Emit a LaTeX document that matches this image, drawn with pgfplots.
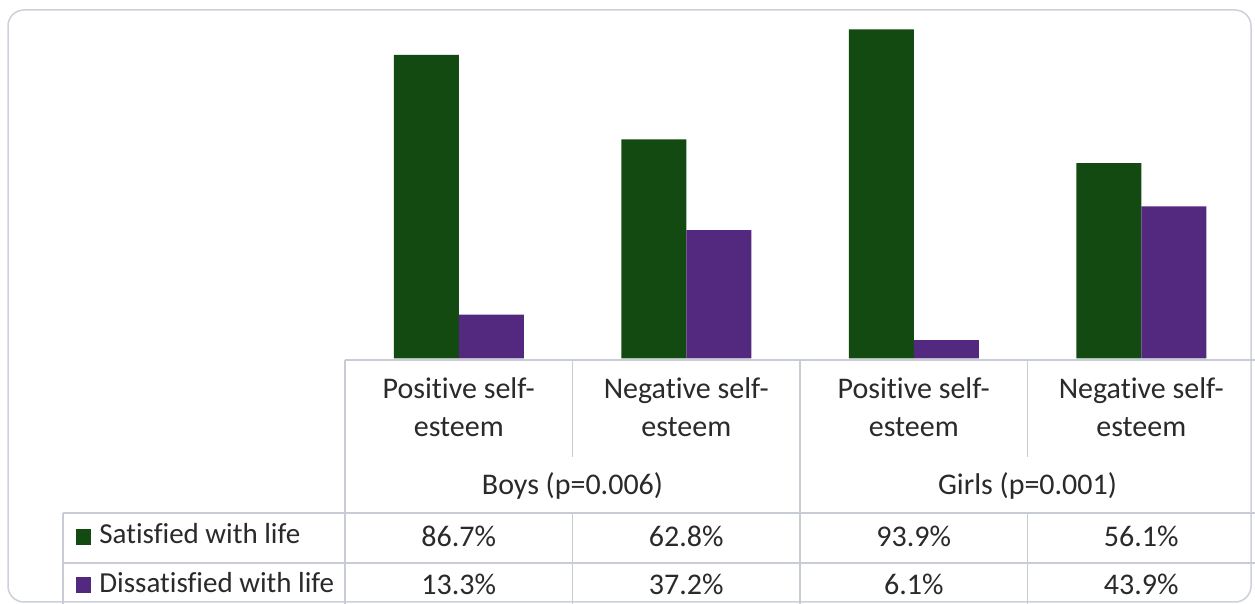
\documentclass[border=0pt]{standalone}
\usepackage{fontspec}
\setmainfont{Carlito}[Ligatures={NoCommon,NoRare,NoContextual}]
\usepackage{pgfplots}
\pgfplotsset{compat=1.18}
\definecolor{sat}{HTML}{124A12}
\definecolor{dis}{HTML}{53287F}
\definecolor{gridc}{HTML}{C8CCD4}
\definecolor{border}{HTML}{CDD1D9}
\definecolor{txt}{HTML}{2A2A2A}
\newcommand\fs{\fontsize{15pt}{19pt}\selectfont}
\newcommand\fl{\fontsize{14.5pt}{19pt}\selectfont}
\begin{document}
\begin{tikzpicture}
\useasboundingbox (0,0) rectangle (627.5pt,-302pt);
\fill[white] (0,0) rectangle (627.5pt,-302pt);
\begin{scope}[x=0.5pt,y=-0.5pt]
\draw[draw=border,line width=0.75pt,rounded corners=8pt] (8,10) rectangle (1251,602);
\end{scope}
\begin{axis}[at={(172.5pt,-179.15pt)},anchor=south west,
  scale only axis, width=455pt, height=175.33pt,
  xmin=-0.5,xmax=3.5,ymin=1,ymax=100,
  hide axis, ybar=0pt, bar width=32.5pt]
\addplot[fill=sat,draw=none] coordinates {(0,86.7)(1,62.8)(2,93.9)(3,56.1)};
\addplot[fill=dis,draw=none] coordinates {(0,13.3)(1,37.2)(2,6.1)(3,43.9)};
\end{axis}
\begin{scope}[x=0.5pt,y=-0.5pt]
% table lines
\draw[gridc,line width=0.7pt] (345,360) -- (1256,360);
\draw[gridc,line width=0.7pt] (63,513) -- (1256,513);
\draw[gridc,line width=0.7pt] (63,563) -- (1256,563);
\draw[gridc,line width=0.7pt] (345,360) -- (345,605);
\draw[gridc,line width=0.7pt] (63,513) -- (63,605);
\draw[gridc,line width=0.7pt] (800,360) -- (800,605);
\draw[gridc,line width=0.7pt] (572.5,360) -- (572.5,457);
\draw[gridc,line width=0.7pt] (572.5,513) -- (572.5,605);
\draw[gridc,line width=0.7pt] (1027.5,360) -- (1027.5,457);
\draw[gridc,line width=0.7pt] (1027.5,513) -- (1027.5,605);
% category labels
\foreach \cx/\lab in {458.75/Positive, 686.25/Negative, 913.75/Positive, 1141.25/Negative}{
  \node[anchor=base,font=\fs,text=txt,inner sep=0pt] at (\cx,398.3) {\lab{} self-};
  \node[anchor=base,font=\fs,text=txt,inner sep=0pt] at (\cx,436.7) {esteem};
}
\node[anchor=base,font=\fs,text=txt,inner sep=0pt] at (572.5,495) {Boys (p=0.006)};
\node[anchor=base,font=\fs,text=txt,inner sep=0pt] at (1027.5,495) {Girls (p=0.001)};
% values
\foreach \cx/\va/\vb in {458.75/86.7/13.3, 686.25/62.8/37.2, 913.75/93.9/6.1, 1141.25/56.1/43.9}{
  \node[anchor=base,font=\fs,text=txt,inner sep=0pt] at (\cx,546.5) {\va\%};
  \node[anchor=base,font=\fs,text=txt,inner sep=0pt] at (\cx,595) {\vb\%};
}
% legend keys
\fill[sat] (76,529) rectangle (91,545);
\fill[dis] (76,577) rectangle (91,593);
\node[anchor=base west,font=\fl,text=txt,inner sep=0pt] at (99,544) {Satisfied with life};
\node[anchor=base west,font=\fl,text=txt,inner sep=0pt] at (99,593) {Dissatisfied with life};
\end{scope}
\end{tikzpicture}
\end{document}
